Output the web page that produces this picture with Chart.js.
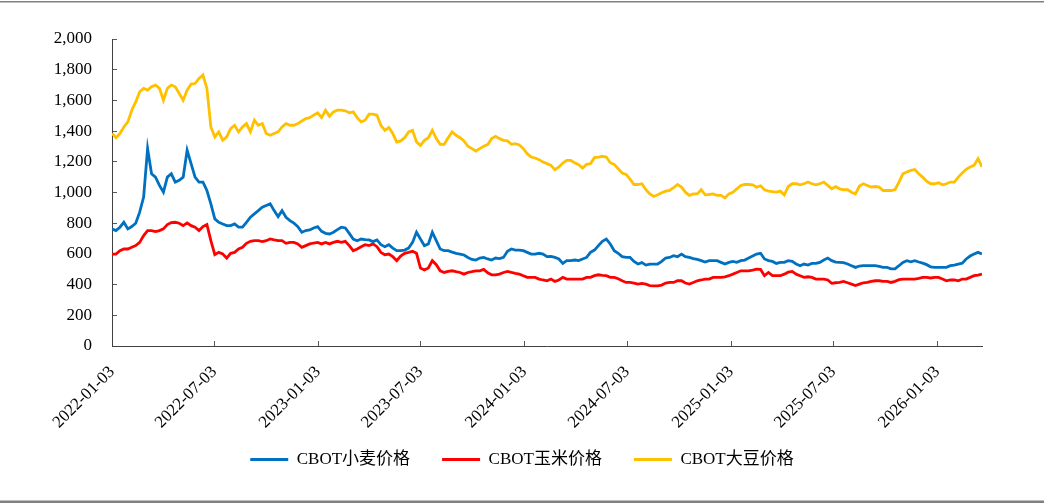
<!DOCTYPE html>
<html><head><meta charset="utf-8">
<script src="https://cdn.jsdelivr.net/npm/chart.js@4.4.1/dist/chart.umd.min.js"></script>
<style>html,body{margin:0;padding:0;background:#fff;}canvas{display:block;}</style>
</head><body>
<canvas id="c" width="1044" height="503"></canvas>
<script>
// ---- data ----
const startDate = "2022-01-03";
const weekCount = 221; // weekly observations
const tickLabels = ["2022-01-03","2022-07-03","2023-01-03","2023-07-03","2024-01-03","2024-07-03","2025-01-03","2025-07-03","2026-01-03"];
const seriesNames = ["CBOT小麦价格","CBOT玉米价格","CBOT大豆价格"];
const wheat = [
763,752,774,806,763,778,800,872,970,1286,
1122,1100,1046,1002,1100,1122,1068,1079,1100,1275,
1188,1100,1068,1068,1013,926,828,806,795,784,
784,795,774,774,806,839,861,882,904,915,
926,882,843,882,839,817,800,778,741,752,
756,769,778,747,734,730,741,758,774,769,
734,697,686,697,693,691,680,691,660,647,
660,638,621,621,625,638,675,741,697,654,
665,741,686,632,621,621,612,604,599,593,
577,564,560,573,577,567,560,573,569,577,
617,632,625,625,621,610,599,599,604,599,
582,584,577,567,538,556,556,560,556,567,
577,610,625,654,682,697,665,621,604,582,
577,577,551,534,543,527,534,534,534,551,
573,577,588,582,599,582,577,569,564,556,
547,556,556,556,545,534,545,551,545,556,
560,573,586,599,604,567,556,551,538,545,
545,556,551,534,523,534,527,538,538,545,
560,573,556,547,545,543,534,523,512,521,
523,523,523,523,519,512,512,503,503,523,
545,556,549,556,547,540,530,516,512,512,
512,512,523,527,534,540,567,586,599,610,599];
const corn = [
599,599,621,632,632,643,654,675,719,752,
752,745,752,763,791,804,806,800,784,802,
784,774,752,778,791,686,595,610,599,573,
604,610,632,643,669,682,686,686,680,686,
697,691,686,686,669,675,675,665,643,654,
665,671,675,665,675,665,675,682,675,682,
654,621,632,647,660,654,665,647,610,595,
599,582,556,586,604,610,617,604,508,495,
508,556,530,490,479,486,490,484,479,468,
479,484,490,490,499,477,464,464,468,479,
486,479,473,468,458,447,447,447,436,430,
425,436,421,430,447,436,436,436,436,436,
447,447,458,464,460,458,447,447,438,425,
414,414,410,403,408,403,394,392,392,397,
410,414,414,425,425,410,403,414,425,430,
436,436,447,447,447,451,458,468,479,490,
490,490,495,501,499,458,479,458,458,458,
468,481,486,468,458,447,451,447,436,436,
436,430,408,412,414,421,412,403,394,403,
412,414,421,425,425,421,421,414,421,432,
436,436,436,436,440,447,447,443,447,447,
436,425,430,430,425,436,436,447,458,462,468];
const soybean = [
1384,1357,1384,1427,1460,1536,1590,1656,1678,1667,
1689,1700,1678,1601,1678,1700,1689,1645,1601,1667,
1706,1710,1743,1765,1678,1427,1362,1395,1340,1362,
1416,1438,1395,1427,1449,1395,1471,1438,1449,1384,
1373,1384,1395,1427,1449,1438,1438,1449,1466,1482,
1488,1504,1519,1488,1536,1497,1525,1536,1536,1532,
1519,1525,1488,1460,1471,1510,1510,1503,1438,1405,
1423,1384,1329,1336,1357,1395,1405,1329,1307,1340,
1357,1405,1351,1314,1314,1357,1395,1373,1357,1336,
1301,1286,1270,1286,1301,1312,1351,1366,1351,1340,
1336,1314,1318,1310,1286,1253,1231,1225,1214,1198,
1188,1177,1149,1166,1192,1209,1209,1194,1181,1159,
1183,1188,1227,1231,1236,1231,1194,1183,1155,1127,
1118,1087,1052,1052,1057,1018,991,974,985,998,
1009,1013,1031,1052,1035,1002,981,991,991,1018,
985,987,991,981,981,965,991,1002,1024,1046,
1052,1052,1050,1035,1044,1018,1009,1005,1002,1009,
985,1039,1057,1057,1050,1057,1068,1057,1050,1057,
1068,1046,1024,1039,1024,1018,1018,1002,991,1042,
1057,1046,1035,1039,1035,1013,1013,1013,1018,1068,
1122,1133,1144,1149,1122,1100,1074,1057,1057,1063,
1050,1057,1068,1068,1100,1127,1151,1166,1177,1220,1166];
const seriesColors = ["#0070C0","#FF0000","#FFC000"];

// ---- helpers ----
function toUTC(s){const [y,m,d]=s.split('-').map(Number);return Date.UTC(y,m-1,d);}
const base = toUTC(startDate);
function dayOffset(s){return Math.round((toUTC(s)-base)/86400000);}
function fmt(ms){const d=new Date(ms);return d.getUTCFullYear()+'-'+String(d.getUTCMonth()+1).padStart(2,'0')+'-'+String(d.getUTCDate()).padStart(2,'0');}
const dates = Array.from({length:weekCount},(_,i)=>fmt(base+i*7*86400000));
const xValues = dates.map(dayOffset);
const tickDays = tickLabels.map(dayOffset);

const serif = "'Liberation Serif','Times New Roman','Noto Sans CJK SC',serif";
const frame = {
  id:'frame',
  beforeDraw(chart){
    const c=chart.ctx;c.save();
    c.fillStyle='#fff';c.fillRect(0,0,chart.width,chart.height);
    c.strokeStyle='#808080';
    c.lineWidth=1.5;c.beginPath();c.moveTo(0,1.75);c.lineTo(chart.width,1.75);c.stroke();
    c.lineWidth=2.5;c.beginPath();c.moveTo(0,501.75);c.lineTo(chart.width,501.75);c.stroke();
    c.restore();
  }
};

new Chart(document.getElementById('c'),{
  type:'line',
  data:{
    labels:xValues,
    datasets:[wheat,corn,soybean].map((arr,i)=>({
      label:seriesNames[i],data:arr,borderColor:seriesColors[i],backgroundColor:seriesColors[i],
      borderWidth:2.8,pointRadius:0,tension:0,fill:false
    }))
  },
  options:{
    responsive:false,animation:false,devicePixelRatio:1,
    layout:{padding:{top:39,right:0,left:0,bottom:25}},
    plugins:{
      tooltip:{enabled:false},
      legend:{position:'bottom',labels:{
        boxWidth:38,boxHeight:3,padding:32,color:'#000',font:{family:serif,size:17},
        generateLabels(chart){return Chart.defaults.plugins.legend.labels.generateLabels(chart).map(l=>({...l,lineWidth:0}));}
      }}
    },
    scales:{
      x:{type:'linear',min:0,max:xValues[xValues.length-1],
        afterBuildTicks(s){s.ticks=tickDays.map(v=>({value:v}));},
        afterFit(s){s.height=73;s._computeLabelArea=function(){return undefined;};},
        ticks:{autoSkip:false,maxRotation:45,minRotation:45,padding:21,color:'#000',font:{family:serif,size:17},
          callback:(v,i)=>tickLabels[i]},
        grid:{drawOnChartArea:false,drawTicks:true,tickLength:-5,color:'#595959'},
        border:{display:true,color:'#404040',width:1}
      },
      y:{min:0,max:2000,
        afterFit(s){s.width=112;},
        ticks:{stepSize:200,padding:25,color:'#000',font:{family:serif,size:17},
          callback:v=>v.toLocaleString('en-US')},
        grid:{drawOnChartArea:false,drawTicks:true,tickLength:-5,color:'#595959'},
        border:{display:true,color:'#404040',width:1}
      },
      rightSpace:{position:'right',min:0,max:1,
        afterFit(s){s.width=62;},
        ticks:{display:false},grid:{display:false},border:{display:false}
      }
    }
  },
  plugins:[frame]
});
</script>
</body></html>
